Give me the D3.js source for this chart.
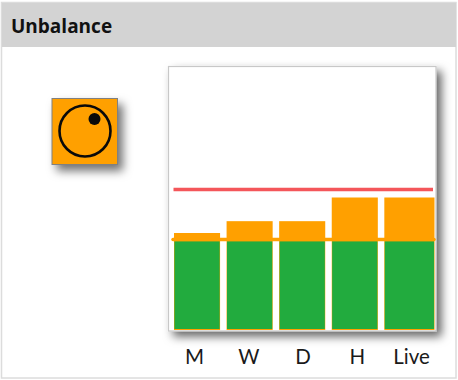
<!DOCTYPE html>
<html><head><meta charset="utf-8">
<script src="https://cdnjs.cloudflare.com/ajax/libs/d3/7.8.5/d3.min.js"></script>
<style>html,body{margin:0;padding:0;background:#fff}svg{display:block}</style>
</head><body><div id="c"></div>
<script>
const title = "Unbalance";
const categories = ["M","W","D","H","Live"];
const greenValues = [33.3,33.3,33.3,33.3,33.3];
const totalValues = [36.5,41,41,50,50];
const redLimit = 53;
const orangeLimit = 34;

const W=458,H=380;
const svg=d3.select("#c").append("svg").attr("width",W).attr("height",H);
const defs=svg.append("defs");
function shadow(id,dx,dy,blur,op){
  const f=defs.append("filter").attr("id",id).attr("x","-30%").attr("y","-30%").attr("width","170%").attr("height","170%");
  f.append("feDropShadow").attr("dx",dx).attr("dy",dy).attr("stdDeviation",blur).attr("flood-color","#000").attr("flood-opacity",op);
}
shadow("s1",5,5,5,0.6);
shadow("s2",5,6,5,0.55);

// card
svg.append("rect").attr("x",1.5).attr("y",2.5).attr("width",454.5).attr("height",375.5).attr("fill","#fff").attr("stroke","#dcdcdc").attr("stroke-width",1.5);
svg.append("rect").attr("x",2).attr("y",3).attr("width",454).attr("height",44).attr("fill","#d3d3d3");
svg.append("text").attr("x",11).attr("y",33).attr("font-family","'Open Sans',sans-serif").attr("font-weight",700).attr("font-size",19).attr("fill","#111").text(title);

// icon
const icon=svg.append("g");
icon.append("rect").attr("x",52).attr("y",98.5).attr("width",65.5).attr("height",66).attr("fill","#ffa000").attr("stroke","#808080").attr("stroke-width",1).attr("filter","url(#s2)");
icon.append("circle").attr("cx",85).attr("cy",131).attr("r",25.5).attr("fill","none").attr("stroke","#0a0a0a").attr("stroke-width",2.6);
icon.append("circle").attr("cx",94.5).attr("cy",119).attr("r",6).attr("fill","#0a0a0a");

// plot
const plot={l:168.5,t:66.5,r:436,b:331};
svg.append("rect").attr("x",plot.l).attr("y",plot.t).attr("width",plot.r-plot.l).attr("height",plot.b-plot.t).attr("fill","#fff").attr("stroke","#c8c8c8").attr("stroke-width",1.2).attr("filter","url(#s1)");

const y=d3.scaleLinear().domain([0,100]).range([329,66]);
const x=d3.scaleBand().domain(categories).range([174,430.4]).paddingInner(6.5/52.55).paddingOuter(0).align(0);
const labelX=d3.scalePoint().domain(categories).range([194,411]);
const rightEdge=434.5;
const barW=d=>d===categories[categories.length-1]?rightEdge-x(d):x.bandwidth();

const rows=categories.map((c,i)=>({c,g:greenValues[i],t:totalValues[i]}));
// limit lines behind bars
svg.append("line").attr("x1",173).attr("x2",434).attr("y1",y(orangeLimit)).attr("y2",y(orangeLimit)).attr("stroke","#ffa000").attr("stroke-width",3.5).attr("stroke-linecap","round");
svg.append("line").attr("x1",173.5).attr("x2",433).attr("y1",y(redLimit)).attr("y2",y(redLimit)).attr("stroke","#f4565a").attr("stroke-width",3.5);

svg.append("g").selectAll("rect").data(rows).join("rect")
 .attr("x",d=>x(d.c)).attr("width",d=>barW(d.c)).attr("y",d=>y(d.t)).attr("height",d=>y(0)-y(d.t)+1).attr("fill","#ffa000");
svg.append("g").selectAll("rect").data(rows).join("rect")
 .attr("x",d=>x(d.c)+0.4).attr("width",d=>barW(d.c)-0.8).attr("y",d=>y(d.g)).attr("height",d=>y(0)-y(d.g)).attr("fill","#22ab3e");

// x labels
const axis=svg.append("g").attr("transform","translate(0,342)").call(d3.axisBottom(labelX).tickSize(0).tickPadding(7));
axis.select(".domain").remove();
axis.selectAll("text").attr("font-family","Lato,sans-serif").attr("font-size",20.5).attr("fill","#1a1a1a");
</script></body></html>
